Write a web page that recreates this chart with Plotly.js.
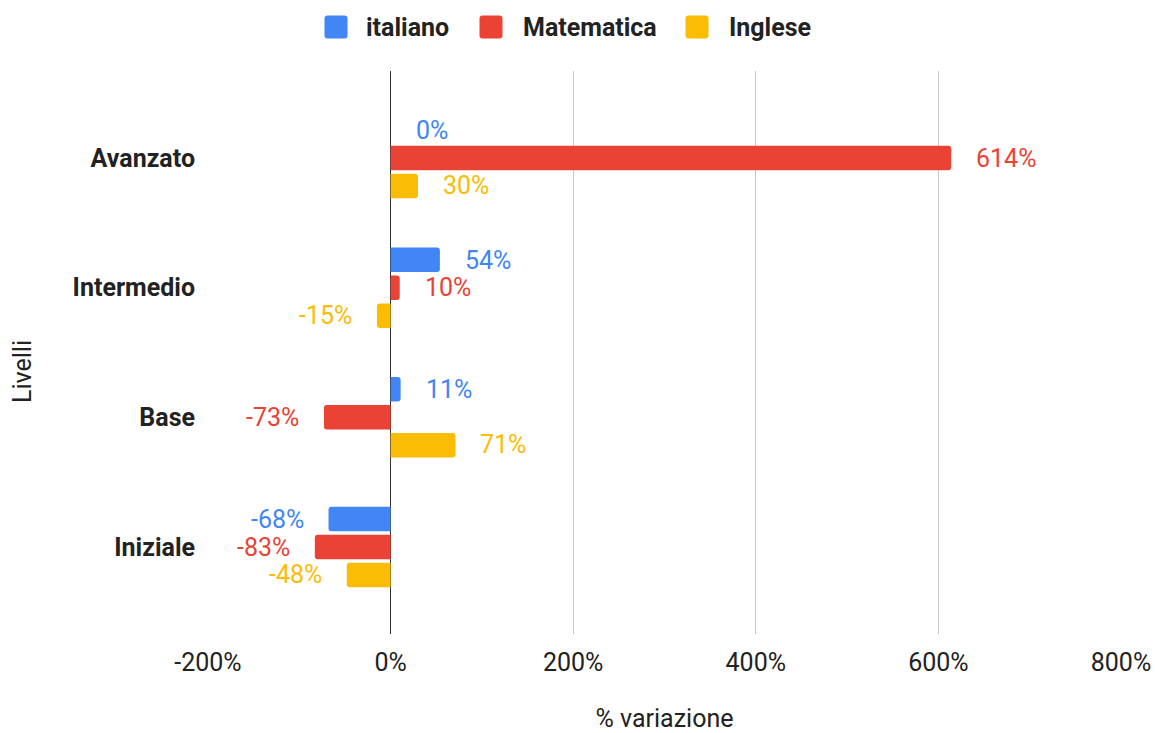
<!DOCTYPE html>
<html>
<head>
<meta charset="utf-8">
<script src="https://cdn.plot.ly/plotly-3.0.1.min.js"></script>
<style>html,body{margin:0;padding:0;background:#fff;}#chart{width:1155px;height:733px;}</style>
</head>
<body>
<div id="chart"></div>
<script>
const categories = ["Avanzato", "Intermedio", "Base", "Iniziale"];
const seriesNames = ["italiano", "Matematica", "Inglese"];
const italiano = [0, 54, 11, -68];
const matematica = [614, 10, -73, -83];
const inglese = [30, -15, 71, -48];
const xTickVals = [-200, 0, 200, 400, 600, 800];
const xTickText = ["-200%", "0%", "200%", "400%", "600%", "800%"];

const colors = ["#4285F4", "#EA4335", "#FBBC04"];
const seriesValues = [italiano, matematica, inglese];
const FONT = "Roboto, Arial, sans-serif";
const FS = 25;

// plot area geometry (pixels)
const W = 1155, H = 733;
const M = {l: 208, r: 34, t: 71, b: 99};
const PW = W - M.l - M.r, PH = H - M.t - M.b;
const px2x = p => (p - M.l) / PW;
const px2y = p => (H - M.b - p) / PH;

const traces = seriesValues.map((vals, i) => ({
  type: "bar",
  orientation: "h",
  name: seriesNames[i],
  x: vals,
  y: categories,
  marker: {color: colors[i], cornerradius: 3},
  showlegend: false,
  hoverinfo: "x+y+name"
}));

const annotations = [];
const yshifts = [27.5, 0, -27.5];
seriesValues.forEach((vals, i) => {
  vals.forEach((v, j) => {
    annotations.push({
      x: v, y: categories[j], xref: "x", yref: "y",
      text: v + "%",
      showarrow: false,
      xanchor: v < 0 ? "right" : "left",
      xshift: v < 0 ? -23 : 23,
      yshift: yshifts[i],
      font: {family: FONT, size: FS, color: colors[i]}
    });
  });
});

// custom legend (swatch + label)
const legendSwatchCenters = [336, 491, 697];
const legendTextLeft = [364, 521, 727];
const legendY = 27;
const shapes = [];
seriesNames.forEach((n, i) => {
  const s = 11.5, r = 3;
  shapes.push({
    type: "path", xref: "paper", yref: "paper",
    xsizemode: "pixel", ysizemode: "pixel",
    xanchor: px2x(legendSwatchCenters[i]), yanchor: px2y(legendY),
    path: `M${-s + r},${-s} L${s - r},${-s} Q${s},${-s} ${s},${-s + r} L${s},${s - r} Q${s},${s} ${s - r},${s} L${-s + r},${s} Q${-s},${s} ${-s},${s - r} L${-s},${-s + r} Q${-s},${-s} ${-s + r},${-s} Z`,
    fillcolor: colors[i], line: {width: 0}
  });
  annotations.push({
    x: px2x(legendTextLeft[i]), y: px2y(legendY), xref: "paper", yref: "paper",
    xanchor: "left", yanchor: "middle", showarrow: false,
    text: "<b>" + n + "</b>",
    font: {family: FONT, size: FS, color: "#222"}
  });
});

// y axis title
annotations.push({
  x: px2x(22), y: px2y(372), xref: "paper", yref: "paper",
  xanchor: "center", yanchor: "middle", showarrow: false,
  text: "Livelli", textangle: -90,
  font: {family: FONT, size: FS, color: "#222"}
});

const layout = {
  width: W, height: H,
  margin: M,
  paper_bgcolor: "#fff", plot_bgcolor: "#fff",
  font: {family: FONT, size: FS, color: "#222"},
  barmode: "group",
  bargap: 0.352,
  bargroupgap: 0.125,
  showlegend: false,
  xaxis: {
    range: [-200, 800],
    tickvals: xTickVals, ticktext: xTickText,
    showgrid: true, gridcolor: "#c8c8c8", gridwidth: 1.2,
    zeroline: true, zerolinecolor: "#333333", zerolinewidth: 1,
    showline: false,
    tickfont: {family: FONT, size: FS, color: "#222"},
    ticks: "", ticklabelstandoff: 11,
    title: {text: "% variazione", font: {family: FONT, size: FS, color: "#222"}, standoff: 42},
    fixedrange: true
  },
  yaxis: {
    type: "category",
    categoryorder: "array", categoryarray: categories,
    range: [3.671, -0.671],
    showgrid: false, zeroline: false, showline: false,
    ticks: "", ticklabelstandoff: 12,
    tickfont: {family: FONT, size: FS, color: "#222", weight: "bold"},
    fixedrange: true
  },
  shapes: shapes,
  annotations: annotations
};

Plotly.newPlot("chart", traces, layout, {displayModeBar: false, responsive: false});
</script>
</body>
</html>
